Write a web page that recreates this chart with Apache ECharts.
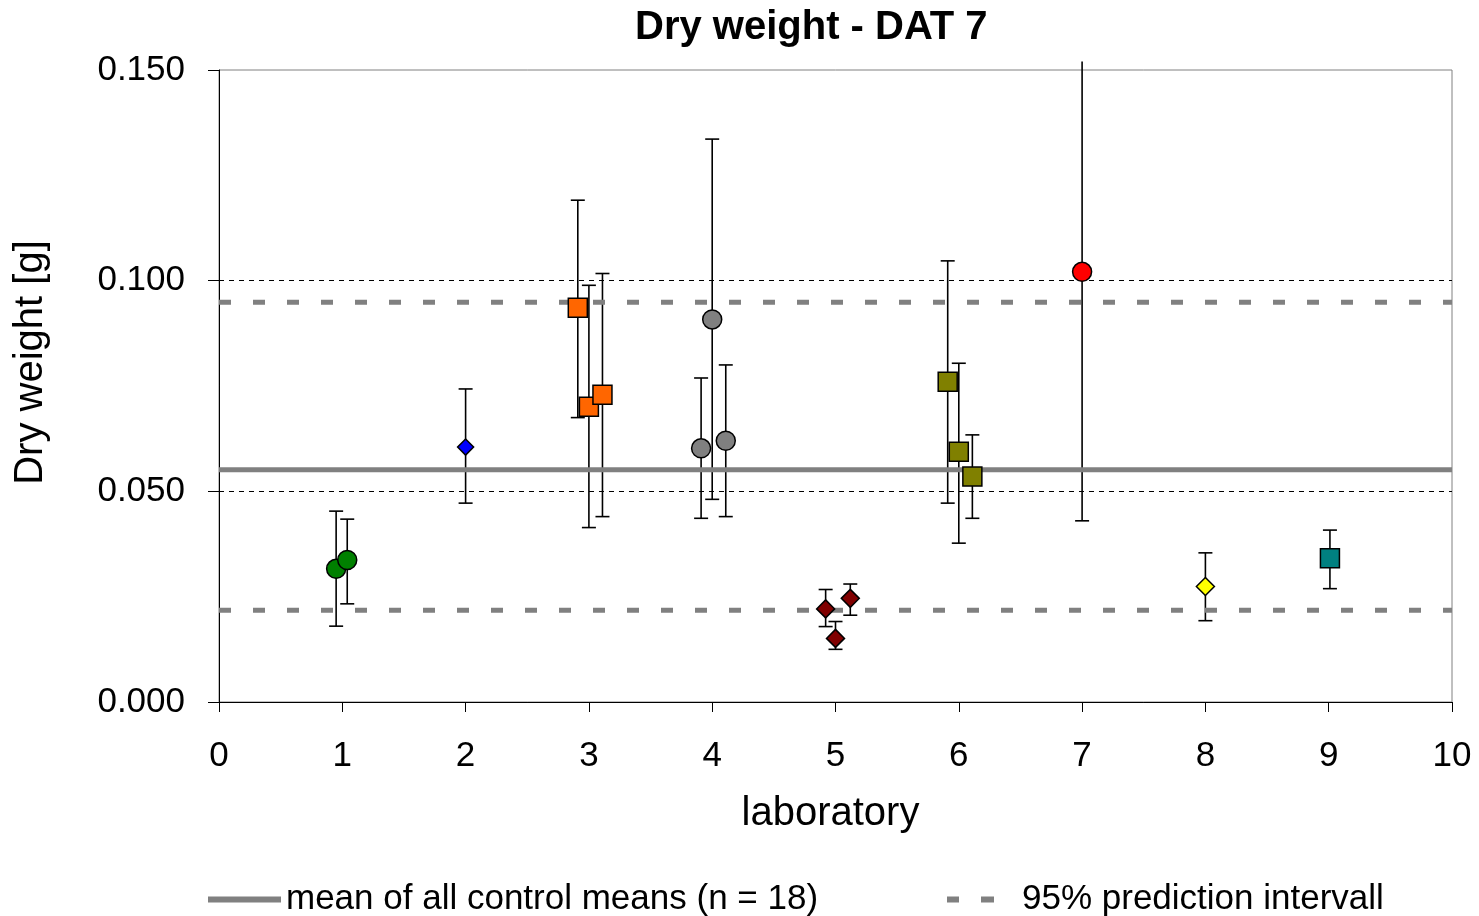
<!DOCTYPE html>
<html>
<head>
<meta charset="utf-8">
<script src="https://cdn.jsdelivr.net/npm/echarts@6/dist/echarts.min.js"></script>
<style>
  html, body { margin: 0; padding: 0; background: #fff; }
  #chart { width: 1479px; height: 916px; }
</style>
</head>
<body>
<div id="chart"></div>
<script>
// one entry per control (n = 18)
const labOf   = [1, 1, 2, 3, 3, 3, 4, 4, 4, 5, 5, 5, 6, 6, 6, 7, 8, 9];
const xPos    = [0.95, 1.04, 2.0, 2.91, 3.0, 3.11, 3.91, 4.0, 4.11, 4.92, 5.0, 5.12, 5.91, 6.0, 6.11, 7.0, 8.0, 9.01];
const meanVal = [0.0316, 0.0337, 0.0605, 0.0936, 0.0701, 0.0729, 0.0602, 0.0908, 0.0620, 0.0221, 0.0151, 0.0246, 0.0760, 0.0594, 0.0535, 0.1021, 0.0274, 0.0341];
const lowVal  = [0.0180, 0.0233, 0.0472, 0.0675, 0.0414, 0.0440, 0.0436, 0.0481, 0.0440, 0.0179, 0.0125, 0.0206, 0.0472, 0.0377, 0.0436, 0.0430, 0.0193, 0.0269];
const highVal = [0.0453, 0.0434, 0.0743, 0.1191, 0.0989, 0.1017, 0.0769, 0.1336, 0.0800, 0.0267, 0.0191, 0.0280, 0.1047, 0.0804, 0.0634, 0.1520, 0.0354, 0.0408];

const grandMean = 0.0551;
const piLow = 0.0218;
const piHigh = 0.0949;

const meanName = 'mean of all control means (n = 18)';
const piName = '95% prediction intervall';

// marker look per laboratory
const labColor  = { 1: '#008000', 2: '#0000ff', 3: '#ff6600', 4: '#808080', 5: '#800000', 6: '#808000', 7: '#ff0000', 8: '#ffff00', 9: '#008080' };
const labSymbol = { 1: 'circle', 2: 'diamond', 3: 'rect', 4: 'circle', 5: 'diamond', 6: 'rect', 7: 'circle', 8: 'diamond', 9: 'rect' };
const labSize   = { 1: 19, 2: 16, 3: 19, 4: 19, 5: 18, 6: 19, 7: 19, 8: 18, 9: 19 };

const yMax = 0.15;
const font = 'Liberation Sans, Arial, sans-serif';

var myChart = echarts.init(document.getElementById('chart'));

const barData = xPos.map((x, i) => [x, meanVal[i], lowVal[i], highVal[i]]);

const scatterSeries = [1, 2, 3, 4, 5, 6, 7, 8, 9].map(lab => ({
  name: 'lab ' + lab,
  type: 'scatter',
  z: 5,
  symbol: labSymbol[lab],
  symbolSize: labSize[lab],
  itemStyle: { color: labColor[lab], borderColor: '#000', borderWidth: 1.5, opacity: 1 },
  data: xPos.map((x, i) => [x, meanVal[i], labOf[i]]).filter(d => d[2] === lab).map(d => [d[0], d[1]])
}));

myChart.setOption({
  animation: false,
  textStyle: { fontFamily: font },
  title: {
    text: 'Dry weight - DAT 7',
    left: 630,
    top: 3,
    textStyle: { fontSize: 40, fontWeight: 'bold', color: '#000', fontFamily: font }
  },
  grid: {
    left: 219, top: 70, width: 1233, height: 632,
    show: true, borderColor: '#808080', borderWidth: 1, backgroundColor: '#fff'
  },
  legend: [
    {
      data: [{ name: meanName, icon: 'rect' }],
      left: 203,
      top: 877,
      itemWidth: 73,
      itemHeight: 6,
      textStyle: { fontSize: 35, color: '#000', fontFamily: font, padding: [0, 0, 0, 0] }
    },
    {
      data: [{ name: piName, icon: 'path://M0,0H12V6H0Z M34,0H47V6H34Z' }],
      left: 942,
      top: 877,
      itemWidth: 47,
      itemHeight: 6,
      textStyle: { fontSize: 35, color: '#000', fontFamily: font, padding: [0, 0, 0, 23] }
    }
  ],
  xAxis: {
    type: 'value',
    min: 0, max: 10, interval: 1,
    name: 'laboratory',
    nameLocation: 'middle',
    nameGap: 92,
    nameTextStyle: { fontSize: 40, color: '#000', fontFamily: font, padding: [0, 10, 0, 0] },
    axisLine: { lineStyle: { color: '#000', width: 1 } },
    axisTick: { show: true, length: 10, lineStyle: { color: '#000' } },
    axisLabel: { fontSize: 35, color: '#000', margin: 37 },
    splitLine: { show: false }
  },
  yAxis: {
    type: 'value',
    min: 0, max: yMax, interval: 0.05,
    name: 'Dry weight [g]',
    nameLocation: 'middle',
    nameGap: 168,
    nameTextStyle: { fontSize: 40, color: '#000', fontFamily: font, padding: [0, 0, 0, 47] },
    axisLine: { show: true, lineStyle: { color: '#000', width: 1 } },
    axisTick: { show: true, length: 11, lineStyle: { color: '#000' } },
    axisLabel: { fontSize: 35, color: '#000', margin: 34, formatter: v => v.toFixed(3) },
    splitLine: {
      show: true,
      lineStyle: { color: ['transparent', '#000', '#000', 'transparent'], type: [5, 5], width: 1 }
    }
  },
  series: [
    {
      name: 'error bars',
      type: 'custom',
      z: 2,
      clip: false,
      encode: { x: 0, y: 1 },
      data: barData,
      renderItem: function (params, api) {
        const x = api.value(0);
        const lo = api.coord([x, api.value(2)]);
        const hi = api.coord([x, api.value(3)]);
        const cap = 7;
        const style = { stroke: '#000', lineWidth: 1.6 };
        const children = [
          { type: 'line', shape: { x1: lo[0], y1: lo[1], x2: hi[0], y2: hi[1] }, style: style },
          { type: 'line', shape: { x1: lo[0] - cap, y1: lo[1], x2: lo[0] + cap, y2: lo[1] }, style: style }
        ];
        if (api.value(3) <= yMax) {
          children.push({ type: 'line', shape: { x1: hi[0] - cap, y1: hi[1], x2: hi[0] + cap, y2: hi[1] }, style: style });
        }
        return { type: 'group', children: children };
      }
    },
    {
      name: meanName,
      type: 'line',
      z: 3,
      symbol: 'none',
      color: '#808080',
      lineStyle: { color: '#808080', width: 5 },
      data: [[0, grandMean], [10, grandMean]]
    },
    {
      name: piName,
      type: 'line',
      z: 3,
      symbol: 'none',
      color: '#808080',
      lineStyle: { color: '#808080', width: 5, type: [12, 22] },
      data: [[0, piHigh], [10, piHigh]]
    },
    {
      name: piName,
      type: 'line',
      z: 3,
      symbol: 'none',
      color: '#808080',
      lineStyle: { color: '#808080', width: 5, type: [12, 22] },
      data: [[0, piLow], [10, piLow]]
    }
  ].concat(scatterSeries)
});
</script>
</body>
</html>
